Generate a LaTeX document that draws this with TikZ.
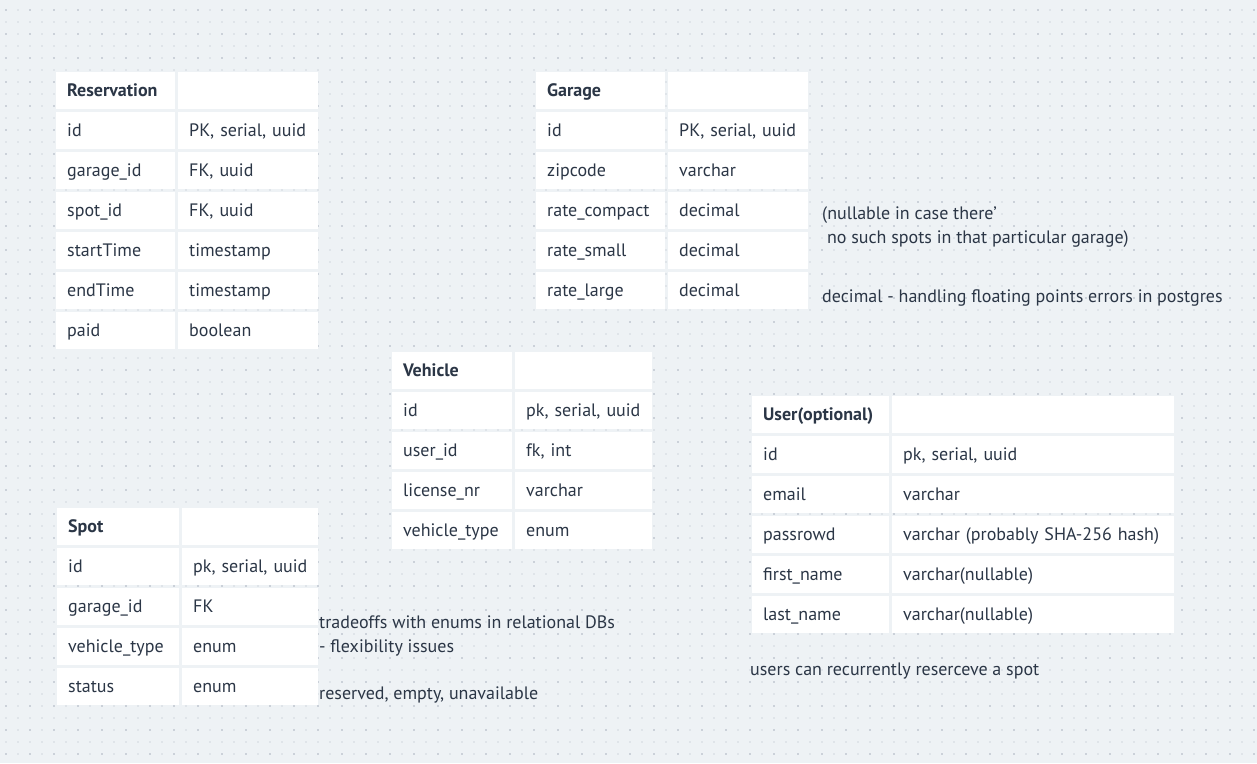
\documentclass[tikz,border=0pt]{standalone}
\usepackage{fontspec}
\setmainfont{PT Sans}
\usepackage{tikz}

\definecolor{canvas}{HTML}{EEF2F5}
\definecolor{dotlight}{HTML}{DFE4E9}
\definecolor{dotdark}{HTML}{CBD1D9}
\definecolor{ink}{HTML}{2B3646}

\tikzset{
  cell/.style={fill=white, anchor=north west, xshift=1.5pt, yshift=-1.5pt,
    inner xsep=11.5pt, inner ysep=0pt, minimum height=37pt, text height=15pt,
    text depth=3pt, align=left, text=ink},
  headcell/.style={cell, font=\fontsize{18pt}{21pt}\selectfont\bfseries},
  note/.style={anchor=base west, inner sep=0pt, text=ink},
  lightdots/.style={draw=dotlight, line width=2pt, dash pattern=on 2pt off 10pt},
  darkdots/.style={draw=dotdark, line width=2pt, dash pattern=on 2pt off 22pt}
}

\begin{document}
\begin{tikzpicture}[x=1pt, y=-1pt, font=\fontsize{18pt}{21pt}\selectfont]
	\useasboundingbox (0,0) rectangle (1257,763);
	\fill[canvas] (0,0) rectangle (1257,763);
	% dotted grid
	\foreach \j in {0,...,62}
		\draw[lightdots] (5,{10+12*\j}) -- (1257,{10+12*\j});
	\foreach \j in {0,...,31}
		\draw[darkdots] (5,{10+24*\j}) -- (1257,{10+24*\j});

	% Reservation
	\node[headcell, text width=96pt] (res-h) at (54,70) {Reservation};
	\node[cell, text width=117pt] (res-hh) at (176,70) {};
	\foreach \f/\t [count=\i] in {id/{PK, serial, uuid}, garage\_id/{FK, uuid},
		spot\_id/{FK, uuid}, startTime/timestamp, endTime/timestamp, paid/boolean} {
		\node[cell, text width=96pt] (res-f\i) at (54,{70+40*\i}) {\mbox{\f}};
		\node[cell, text width=117pt] (res-t\i) at (176,{70+40*\i}) {\mbox{\t}};
	}

	% Garage
	\node[headcell, text width=106pt] (gar-h) at (534,70) {Garage};
	\node[cell, text width=117pt] (gar-hh) at (666,70) {};
	\foreach \f/\t [count=\i] in {id/{PK, serial, uuid}, zipcode/varchar,
		rate\_compact/decimal, rate\_small/decimal, rate\_large/decimal} {
		\node[cell, text width=106pt] (gar-f\i) at (534,{70+40*\i}) {\mbox{\f}};
		\node[cell, text width=117pt] (gar-t\i) at (666,{70+40*\i}) {\mbox{\t}};
	}

	% Vehicle
	\node[headcell, text width=97pt] (veh-h) at (390,350) {Vehicle};
	\node[cell, text width=114pt] (veh-hh) at (513,350) {};
	\foreach \f/\t [count=\i] in {id/{pk, serial, uuid}, user\_id/{fk, int},
		license\_nr/varchar, vehicle\_type/enum} {
		\node[cell, text width=97pt] (veh-f\i) at (390,{350+40*\i}) {\mbox{\f}};
		\node[cell, text width=114pt] (veh-t\i) at (513,{350+40*\i}) {\mbox{\t}};
	}

	% User
	\node[headcell, text width=114pt] (usr-h) at (750,394) {User(optional)};
	\node[cell, text width=259pt] (usr-hh) at (890,394) {};
	\foreach \f/\t [count=\i] in {id/{pk, serial, uuid}, email/varchar,
		passrowd/{varchar (probably SHA-256 hash)}, first\_name/varchar(nullable),
		last\_name/varchar(nullable)} {
		\node[cell, text width=114pt] (usr-f\i) at (750,{394+40*\i}) {\mbox{\f}};
		\node[cell, text width=259pt] (usr-t\i) at (890,{394+40*\i}) {\mbox{\t}};
	}

	% Spot
	\node[headcell, text width=99pt] (spot-h) at (55,506) {Spot};
	\node[cell, text width=113pt] (spot-hh) at (180,506) {};
	\foreach \f/\t [count=\i] in {id/{pk, serial, uuid}, garage\_id/FK,
		vehicle\_type/enum, status/enum} {
		\node[cell, text width=99pt] (spot-f\i) at (55,{506+40*\i}) {\mbox{\f}};
		\node[cell, text width=113pt] (spot-t\i) at (180,{506+40*\i}) {\mbox{\t}};
	}

	% notes
	\node[note] (nullnote) at (822,219) {(nullable in case there'};
	\node[note] (nullnote2) at (822,243) {\ no such spots in that particular garage)};
	\node[note] (decnote) at (822,302) {decimal - handling floating points errors in postgres};
	\node[note] (enumnote) at (319,628) {tradeoffs with enums in relational DBs};
	\node[note] (enumnote2) at (319,652) {- flexibility issues};
	\node[note] (statusnote) at (319,699) {reserved, empty, unavailable};
	\node[note] (usernote) at (750,675) {users can recurrently reserceve a spot};
\end{tikzpicture}
\end{document}
